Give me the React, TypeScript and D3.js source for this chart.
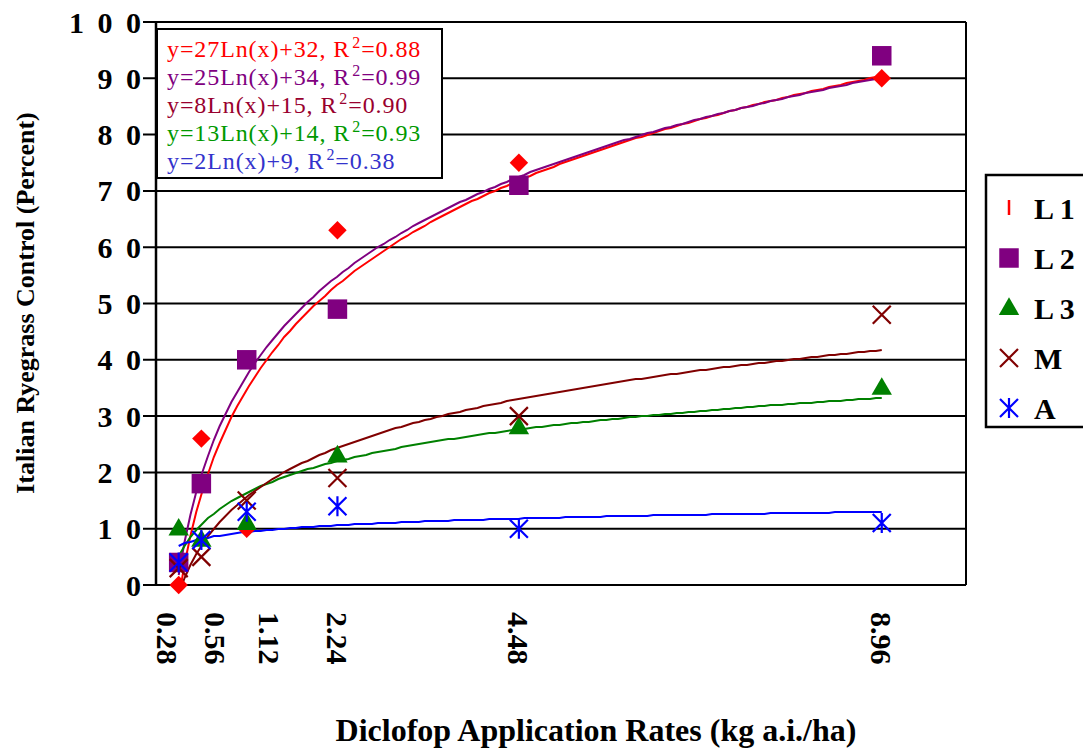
import React, { useRef, useEffect } from "react";
import * as d3 from "d3";

// application rates (kg a.i./ha)
const rates = [0.28, 0.56, 1.12, 2.24, 4.48, 8.96];
const rateLabels = ["0.28", "0.56", "1.12", "2.24", "4.48", "8.96"];
// labels were nudged sideways in the original so the first ones don't collide
const rateLabelNudge = [-11, 14, 23, 0, 0, 0];

// percent control per series
const l1Values = [0, 26, 10, 63, 75, 90];
const l2Values = [4, 18, 40, 49, 71, 94];
const l3Values = [10, 8, 11, 23, 28, 35];
const mValues = [3, 5, 15, 19, 30, 48];
const aValues = [4, 8, 13, 14, 10, 11];

const yTicks = [0, 10, 20, 30, 40, 50, 60, 70, 80, 90, 100];

const seriesNames = ["L 1", "L 2", "L 3", "M", "A"];
const seriesColors = ["#ff0000", "#800080", "#008000", "#800000", "#0000ff"];
const seriesSymbols = ["diamond", "square", "triangle", "cross", "star"];

const equationTexts = [
  ["y=27Ln(x)+32, R", "=0.88"],
  ["y=25Ln(x)+34, R", "=0.99"],
  ["y=8Ln(x)+15, R", "=0.90"],
  ["y=13Ln(x)+14, R", "=0.93"],
  ["y=2Ln(x)+9, R", "=0.38"]
];
const equationColors = ["#ff0000", "#800080", "#99002e", "#009900", "#3333cc"];

const FONT = "'Liberation Serif', 'Times New Roman', serif";

// least squares fit of y = a*ln(x) + b
function logFit(xs: number[], ys: number[]) {
  const lx = xs.map(v => Math.log(v));
  const mx = d3.mean(lx) as number;
  const my = d3.mean(ys) as number;
  let sxy = 0;
  let sxx = 0;
  lx.forEach((v, i) => {
    sxy += (v - mx) * (ys[i] - my);
    sxx += (v - mx) * (v - mx);
  });
  const a = sxy / sxx;
  return { a, b: my - a * mx };
}

function drawMarker(g: any, kind: string, cx: number, cy: number, color: string) {
  if (kind === "diamond") {
    g.append("path")
      .attr("d", d3.symbol(d3.symbolSquare, 170)())
      .attr("transform", `translate(${cx},${cy}) rotate(45)`)
      .attr("fill", color);
  } else if (kind === "square") {
    g.append("path")
      .attr("d", d3.symbol(d3.symbolSquare, 380)())
      .attr("transform", `translate(${cx},${cy})`)
      .attr("fill", color);
  } else if (kind === "triangle") {
    g.append("path")
      .attr("d", d3.symbol(d3.symbolTriangle, 180)())
      .attr("transform", `translate(${cx},${cy + 1})`)
      .attr("fill", color);
  } else {
    const r = 9;
    let d = `M${-r},${-r}L${r},${r}M${-r},${r}L${r},${-r}`;
    if (kind === "star") d += `M0,${-r - 1}L0,${r + 1}`;
    g.append("path")
      .attr("d", d)
      .attr("transform", `translate(${cx},${cy})`)
      .attr("stroke", color)
      .attr("stroke-width", 2.2)
      .attr("fill", "none");
  }
}

export default function App() {
  const anchor = useRef<SVGSVGElement>(null);

  useEffect(() => {
    const svg = d3.select(anchor.current);
    svg.selectAll("*").remove();

    const x = d3.scaleLinear().domain([0, 10]).range([156, 966]);
    const y = d3.scaleLinear().domain([0, 100]).range([585, 22]);

    const series = [l1Values, l2Values, l3Values, mValues, aValues];

    svg
      .append("defs")
      .append("clipPath")
      .attr("id", "plotClip")
      .append("rect")
      .attr("x", x(0))
      .attr("y", y(100))
      .attr("width", x(10) - x(0))
      .attr("height", y(0) - y(100));

    // gridlines, with the little tick stub left of the axis
    svg
      .append("g")
      .selectAll("line")
      .data(yTicks)
      .join("line")
      .attr("x1", x(0) - 13)
      .attr("x2", x(10))
      .attr("y1", d => y(d))
      .attr("y2", d => y(d))
      .attr("stroke", "#000")
      .attr("stroke-width", 2);

    // left axis and right border
    svg
      .append("line")
      .attr("x1", x(0))
      .attr("x2", x(0))
      .attr("y1", y(100))
      .attr("y2", y(0))
      .attr("stroke", "#000")
      .attr("stroke-width", 2.5);
    svg
      .append("line")
      .attr("x1", x(10))
      .attr("x2", x(10))
      .attr("y1", y(100))
      .attr("y2", y(0))
      .attr("stroke", "#000")
      .attr("stroke-width", 2);

    // y tick labels
    svg
      .append("g")
      .selectAll("text")
      .data(yTicks)
      .join("text")
      .attr("x", x(0) - 12)
      .attr("y", d => y(d))
      .attr("dy", "0.35em")
      .attr("text-anchor", "end")
      .attr("font-family", FONT)
      .attr("font-weight", "bold")
      .attr("font-size", 30)
      .attr("letter-spacing", 3)
      .text(d => String(d).split("").join(" "));

    // x tick labels, rotated
    svg
      .append("g")
      .selectAll("text")
      .data(rates)
      .join("text")
      .attr("transform", (d, i) => `translate(${x(d) + rateLabelNudge[i]},612) rotate(90)`)
      .attr("dy", "0.35em")
      .attr("font-family", FONT)
      .attr("font-weight", "bold")
      .attr("font-size", 30)
      .text((d, i) => rateLabels[i]);

    // trendlines
    const trendG = svg.append("g").attr("clip-path", "url(#plotClip)");
    const samples = d3.range(0, 121).map(i => rates[0] + (i / 120) * (rates[5] - rates[0]));
    series.forEach((vals, si) => {
      const fit = logFit(rates, vals);
      const line = d3
        .line<number>()
        .x(d => x(d))
        .y(d => Math.round(y(fit.a * Math.log(d) + fit.b)));
      trendG
        .append("path")
        .attr("d", line(samples))
        .attr("fill", "none")
        .attr("stroke", seriesColors[si])
        .attr("stroke-width", 2);
    });

    // markers
    const markG = svg.append("g");
    series.forEach((vals, si) => {
      vals.forEach((v, i) => {
        drawMarker(markG, seriesSymbols[si], x(rates[i]), y(v), seriesColors[si]);
      });
    });

    // equation box
    const eq = svg.append("g");
    eq.append("rect")
      .attr("x", 157)
      .attr("y", 29)
      .attr("width", 285)
      .attr("height", 149)
      .attr("fill", "#fff")
      .attr("stroke", "#000")
      .attr("stroke-width", 2);
    equationTexts.forEach((t, i) => {
      const txt = eq
        .append("text")
        .attr("x", 167)
        .attr("y", 57 + i * 28)
        .attr("font-family", FONT)
        .attr("font-size", 24)
        .attr("letter-spacing", 0.9)
        .attr("fill", equationColors[i]);
      txt.append("tspan").text(t[0]);
      txt.append("tspan").attr("dy", -9).attr("dx", 2).attr("font-size", 16).text("2");
      txt.append("tspan").attr("dy", 9).text(t[1]);
    });

    // legend
    const lg = svg.append("g");
    lg.append("rect")
      .attr("x", 986)
      .attr("y", 175)
      .attr("width", 110)
      .attr("height", 252)
      .attr("fill", "#fff")
      .attr("stroke", "#000")
      .attr("stroke-width", 2.5);
    seriesNames.forEach((name, i) => {
      const cy = 208 + i * 50;
      if (i === 0) {
        lg.append("line")
          .attr("x1", 1009)
          .attr("x2", 1009)
          .attr("y1", cy - 8)
          .attr("y2", cy + 7)
          .attr("stroke", seriesColors[0])
          .attr("stroke-width", 2.5);
      } else {
        drawMarker(lg, seriesSymbols[i], 1009, cy, seriesColors[i]);
      }
      lg.append("text")
        .attr("x", 1034)
        .attr("y", cy)
        .attr("dy", "0.35em")
        .attr("font-family", FONT)
        .attr("font-weight", "bold")
        .attr("font-size", 30)
        .text(name);
    });

    // axis titles
    svg
      .append("text")
      .attr("transform", "translate(34,303) rotate(-90)")
      .attr("text-anchor", "middle")
      .attr("font-family", FONT)
      .attr("font-weight", "bold")
      .attr("font-size", 26)
      .text("Italian Ryegrass Control (Percent)");
    svg
      .append("text")
      .attr("x", 596)
      .attr("y", 741)
      .attr("text-anchor", "middle")
      .attr("font-family", FONT)
      .attr("font-weight", "bold")
      .attr("font-size", 32)
      .text("Diclofop Application Rates (kg a.i./ha)");
  }, []);

  return (
    <svg
      ref={anchor}
      width={1083}
      height={751}
      style={{ position: "absolute", left: 0, top: 0, background: "#fff" }}
    />
  );
}
